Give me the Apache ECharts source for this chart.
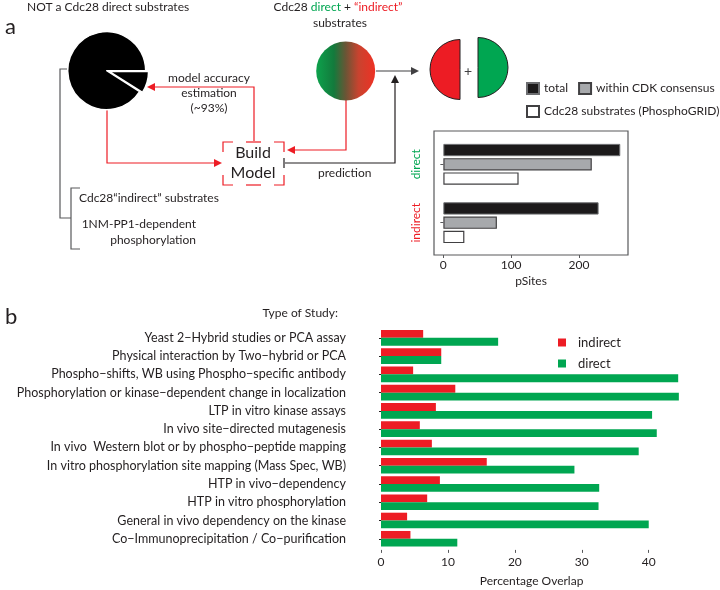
<!DOCTYPE html>
<html><head><meta charset="utf-8">
<script src="https://cdn.jsdelivr.net/npm/echarts@6/dist/echarts.min.js"></script>
<style>html,body{margin:0;padding:0;background:#fff}#c{width:720px;height:590px}</style>
</head><body><div id="c"></div>
<script>
// ---------- data ----------
const pieSlices = [9, 91];
const smallCategories = ['direct', 'indirect'];
const totalSites = [261, 229];
const cdkConsensusSites = [219, 79];
const phosphoGridSites = [111, 31];
const smallTicks = [0, 100, 200];

const studyTypes = [
  'Yeast 2\u2212Hybrid studies or PCA assay',
  'Physical interaction by Two\u2212hybrid or PCA',
  'Phospho\u2212shifts, WB using Phospho\u2212specific antibody',
  'Phosphorylation or kinase\u2212dependent change in localization',
  'LTP in vitro kinase assays',
  'In vivo site\u2212directed mutagenesis',
  'In vivo  Western blot or by phospho\u2212peptide mapping',
  'In vitro phosphorylation site mapping (Mass Spec, WB)',
  'HTP in vivo\u2212dependency',
  'HTP in vitro phosphorylation',
  'General in vivo dependency on the kinase',
  'Co\u2212Immunoprecipitation / Co\u2212purification'
];
const indirectOverlap = [6.3, 9.0, 4.8, 11.1, 8.2, 5.8, 7.6, 15.8, 8.8, 6.9, 3.9, 4.4];
const directOverlap = [17.5, 9.0, 44.4, 44.5, 40.5, 41.2, 38.5, 28.9, 32.6, 32.5, 40.0, 11.4];
const overlapTicks = [0, 10, 20, 30, 40];

// ---------- styles ----------
const RED = '#ed1c24', GREEN = '#00a651', INK = '#231f20', GREY = '#58595b';
const F = 'Lato, "Open Sans", sans-serif';

function txt(x, y, text, size, align, color) {
  return { type: 'text', silent: true, style: {
    x: x, y: y, text: text, fill: color || INK, font: size + 'px ' + F,
    textAlign: align, textVerticalAlign: 'middle', align: align, verticalAlign: 'middle' } };
}
function line(points, color, w) {
  return { type: 'polyline', silent: true, shape: { points: points },
    style: { stroke: color, lineWidth: w || 1.2, fill: null } };
}
function tri(points, color) {
  return { type: 'polygon', silent: true, shape: { points: points }, style: { fill: color } };
}

const graphics = [
  txt(5, 27, 'a', 22, 'left'),
  txt(5, 317, 'b', 22, 'left'),
  txt(27, 7, 'NOT a Cdc28 direct substrates', 12, 'left'),
  { type: 'text', silent: true, style: {
      x: 338, y: 7, text: '{k|Cdc28 }{g|direct}{k| + }{r|\u201cindirect\u201d}',
      textAlign: 'center', align: 'center', textVerticalAlign: 'middle', verticalAlign: 'middle',
      font: '12px ' + F,
      rich: { k: { fill: INK, color: INK, fontSize: 12, fontFamily: F },
              g: { fill: GREEN, color: GREEN, fontSize: 12, fontFamily: F },
              r: { fill: RED, color: RED, fontSize: 12, fontFamily: F } } } },
  txt(340, 23, 'substrates', 12, 'center'),
  txt(209, 78, 'model accuracy', 12, 'center'),
  txt(209, 93, 'estimation', 12, 'center'),
  txt(209, 108, '(~93%)', 12, 'center'),
  txt(253, 153, 'Build', 16, 'center'),
  txt(253, 173, 'Model', 16, 'center'),
  txt(318, 173, 'prediction', 12, 'left'),
  txt(79, 198, 'Cdc28\u201cindirect\u201d substrates', 12, 'left'),
  txt(196, 224, '1NM-PP1-dependent', 12, 'right'),
  txt(196, 240, 'phosphorylation', 12, 'right'),
  txt(338, 313, 'Type of Study:', 12, 'right'),
  txt(468, 71, '+', 14, 'center', '#414042'),
  // grey bracket
  line([[67, 69], [60, 69], [60, 218], [71, 218]], GREY),
  line([[80, 188], [71, 188], [71, 249], [80, 249]], GREY),
  // red arrows
  line([[107, 110], [107, 163], [215, 163]], RED), tri([[214, 159], [222, 163], [214, 167]], RED),
  line([[254, 141], [254, 87], [154, 87]], RED), tri([[155, 83], [147, 87], [155, 91]], RED),
  line([[346, 100], [346, 150], [294, 150]], RED), tri([[295, 146], [287, 150], [295, 154]], RED),
  // dashed box
  line([[223, 152], [223, 142], [233, 142]], RED),
  line([[246, 142], [261, 142]], RED),
  line([[274, 142], [284, 142], [284, 152]], RED),
  line([[284, 175], [284, 185], [274, 185]], RED),
  line([[246, 185], [261, 185]], RED),
  line([[233, 185], [223, 185], [223, 175]], RED),
  // prediction arrow
  line([[284, 158], [284, 168]], INK),
  line([[285, 163], [395, 163], [395, 82]], INK), tri([[391, 83], [395, 75], [399, 83]], INK),
  line([[376, 71], [411, 71]], '#414042'), tri([[411, 67], [419, 71], [411, 75]], '#414042'),
  // gradient circle
  { type: 'circle', silent: true, shape: { cx: 345.7, cy: 71, r: 29.5 },
    style: { fill: { type: 'linear', x: 0, y: 0, x2: 1, y2: 0, colorStops: [
      { offset: 0, color: '#0da24c' }, { offset: 0.3, color: '#137a3c' },
      { offset: 0.5, color: '#6a5535' }, { offset: 0.72, color: '#c9432f' },
      { offset: 1, color: '#ee3124' }] } } },
  // split halves
  { type: 'sector', silent: true, shape: { cx: 460, cy: 69.5, r: 30, r0: 0, startAngle: Math.PI / 2, endAngle: Math.PI * 1.5, clockwise: true },
    style: { fill: RED, stroke: INK, lineWidth: 1 } },
  { type: 'sector', silent: true, shape: { cx: 478, cy: 67.5, r: 30, r0: 0, startAngle: -Math.PI / 2, endAngle: Math.PI / 2, clockwise: true },
    style: { fill: GREEN, stroke: INK, lineWidth: 1 } },
  // frame of small chart
  { type: 'rect', silent: true, z: 10, shape: { x: 434, y: 131, width: 194, height: 124 },
    style: { fill: null, stroke: GREY, lineWidth: 1.2 } }
];

const chart = echarts.init(document.getElementById('c'), null, { renderer: 'canvas' });
chart.setOption({
  animation: false,
  backgroundColor: '#fff',
  textStyle: { fontFamily: F, color: INK },
  graphic: { elements: graphics },
  grid: [
    { left: 434, top: 135.1, width: 194, height: 116.8, outerBoundsMode: 'none', containLabel: false },
    { left: 381, top: 328.7, width: 301.2, height: 219.2, outerBoundsMode: 'none', containLabel: false }
  ],
  legend: [
    { data: ['total', 'within CDK consensus', 'Cdc28 substrates (PhosphoGRID)'],
      left: 526, top: 82, width: 194, orient: 'horizontal', itemWidth: 12, itemHeight: 11, itemGap: 10,
      padding: 0, icon: 'rect', selectedMode: false,
      textStyle: { fontSize: 12, color: INK, fontFamily: F, lineHeight: 11 } },
    { data: ['indirect', 'direct'], left: 558, top: 336, orient: 'vertical', itemWidth: 8, itemHeight: 8,
      itemGap: 8, padding: 0, icon: 'rect', selectedMode: false,
      textStyle: { fontSize: 13, color: INK, fontFamily: F, lineHeight: 8, padding: [0, 0, 0, 7] } }
  ],
  xAxis: [
    { gridIndex: 0, type: 'value', min: -13.8, max: 272.4, offset: 3.1,
      axisLine: { show: false }, splitLine: { show: false },
      axisTick: { show: true, length: 3, customValues: smallTicks, lineStyle: { color: GREY } },
      axisLabel: { customValues: smallTicks, margin: 4, fontSize: 12, color: INK, fontFamily: F },
      name: 'pSites', nameLocation: 'middle', nameGap: 20,
      nameTextStyle: { fontSize: 12, color: INK, fontFamily: F } },
    { gridIndex: 1, type: 'value', min: 0, max: 45, offset: 2,
      axisLine: { show: false }, splitLine: { show: false },
      axisTick: { show: true, length: 3, customValues: overlapTicks, lineStyle: { color: GREY } },
      axisLabel: { customValues: overlapTicks, margin: 6, fontSize: 12, color: INK, fontFamily: F },
      name: 'Percentage Overlap', nameLocation: 'middle', nameGap: 25,
      nameTextStyle: { fontSize: 12, color: INK, fontFamily: F } }
  ],
  yAxis: [
    { gridIndex: 0, type: 'category', data: smallCategories, inverse: true,
      axisLine: { show: false }, splitLine: { show: false },
      axisTick: { show: true, alignWithLabel: true, length: 3, lineStyle: { color: GREY } },
      axisLabel: { rotate: 90, margin: 12, fontSize: 12, fontFamily: F,
        color: function (v) { return v === 'direct' ? GREEN : RED; } } },
    { gridIndex: 1, type: 'category', data: studyTypes, inverse: true, offset: 16,
      axisLine: { show: false }, splitLine: { show: false },
      axisTick: { show: true, alignWithLabel: true, length: 2, lineStyle: { color: INK } },
      axisLabel: { margin: 19, fontSize: 12.5, color: INK, fontFamily: F } }
  ],
  series: [
    { type: 'pie', center: [106.7, 70.7], radius: 39, startAngle: 0, clockwise: true,
      selectedMode: 'single', selectedOffset: 3, silent: true,
      label: { show: false }, labelLine: { show: false },
      itemStyle: { color: '#000', borderColor: '#fff', borderWidth: 1.5 },
      data: [{ name: 'slice', value: pieSlices[0], selected: true }, { name: 'rest', value: pieSlices[1] }] },
    { name: 'total', type: 'bar', xAxisIndex: 0, yAxisIndex: 0, data: totalSites,
      barWidth: 12.3, barGap: '16%',
      itemStyle: { color: '#1c1a1b', borderColor: '#6d6e71', borderWidth: 1 } },
    { name: 'within CDK consensus', type: 'bar', xAxisIndex: 0, yAxisIndex: 0, data: cdkConsensusSites,
      barWidth: 12.3, barGap: '16%',
      itemStyle: { color: '#a7a9ac', borderColor: '#414042', borderWidth: 1.2 } },
    { name: 'Cdc28 substrates (PhosphoGRID)', type: 'bar', xAxisIndex: 0, yAxisIndex: 0, data: phosphoGridSites,
      barWidth: 12.3, barGap: '16%',
      itemStyle: { color: '#ffffff', borderColor: '#414042', borderWidth: 1.2 } },
    { name: 'indirect', type: 'bar', xAxisIndex: 1, yAxisIndex: 1, data: indirectOverlap,
      barWidth: 7.8, barGap: '0%', itemStyle: { color: RED } },
    { name: 'direct', type: 'bar', xAxisIndex: 1, yAxisIndex: 1, data: directOverlap,
      barWidth: 7.8, barGap: '0%', itemStyle: { color: GREEN } }
  ]
});
</script>
</body></html>
